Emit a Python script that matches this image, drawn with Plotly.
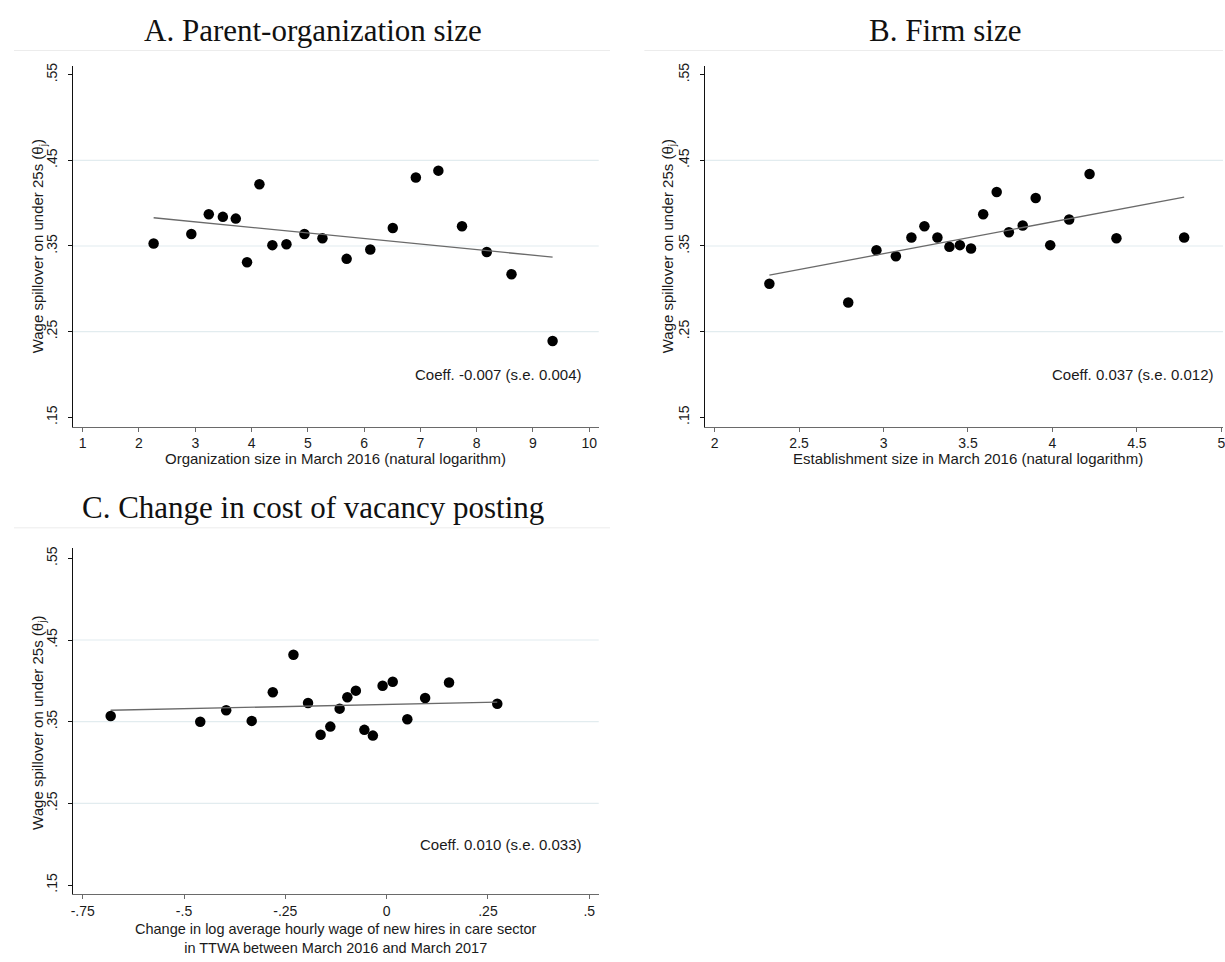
import plotly.graph_objects as go

W, H = 1225, 962

# ---------------- data ----------------
# Panel A: parent-organization size
org_x = [2.26, 2.93, 3.24, 3.49, 3.72, 3.92, 4.14, 4.37, 4.62, 4.94,
         5.26, 5.69, 6.11, 6.51, 6.92, 7.32, 7.74, 8.18, 8.62, 9.35]
org_y = [0.353, 0.364, 0.387, 0.384, 0.382, 0.331, 0.422, 0.351, 0.352, 0.364,
         0.359, 0.335, 0.346, 0.371, 0.430, 0.438, 0.373, 0.343, 0.317, 0.239]
org_fit_x = [2.26, 9.35]
org_fit_y = [0.383, 0.337]

# Panel B: firm (establishment) size
firm_x = [2.324, 2.791, 2.958, 3.073, 3.165, 3.242, 3.319, 3.390, 3.452, 3.518,
          3.590, 3.670, 3.742, 3.824, 3.901, 3.987, 4.099, 4.220, 4.379, 4.780]
firm_y = [0.306, 0.284, 0.345, 0.338, 0.360, 0.373, 0.360, 0.349, 0.351, 0.347,
          0.387, 0.413, 0.366, 0.374, 0.406, 0.351, 0.381, 0.434, 0.359, 0.360]
firm_fit_x = [2.324, 4.780]
firm_fit_y = [0.316, 0.407]

# Panel C: change in cost of vacancy posting
vac_x = [-0.681, -0.460, -0.396, -0.333, -0.281, -0.230, -0.194, -0.163, -0.139, -0.116,
         -0.097, -0.076, -0.055, -0.034, -0.010, 0.015, 0.051, 0.095, 0.154, 0.273]
vac_y = [0.357, 0.350, 0.364, 0.351, 0.386, 0.432, 0.373, 0.334, 0.344, 0.366,
         0.380, 0.388, 0.340, 0.333, 0.394, 0.399, 0.353, 0.379, 0.398, 0.372]
vac_fit_x = [-0.681, 0.273]
vac_fit_y = [0.364, 0.374]

y_ticks = [0.15, 0.25, 0.35, 0.45, 0.55]
y_ticklabels = [".15", ".25", ".35", ".45", ".55"]
grid_vals = [0.25, 0.35, 0.45]

org_ticks = [1, 2, 3, 4, 5, 6, 7, 8, 9, 10]
org_ticklabels = ["1", "2", "3", "4", "5", "6", "7", "8", "9", "10"]
firm_ticks = [2, 2.5, 3, 3.5, 4, 4.5, 5]
firm_ticklabels = ["2", "2.5", "3", "3.5", "4", "4.5", "5"]
vac_ticks = [-0.75, -0.5, -0.25, 0, 0.25, 0.5]
vac_ticklabels = ["-.75", "-.5", "-.25", "0", ".25", ".5"]

titles = ["A. Parent-organization size", "B. Firm size",
          "C. Change in cost of vacancy posting"]
coef_texts = ["Coeff. -0.007 (s.e. 0.004)", "Coeff. 0.037 (s.e. 0.012)",
              "Coeff. 0.010 (s.e. 0.033)"]
xtitles = ["Organization size in March 2016 (natural logarithm)",
           "Establishment size in March 2016 (natural logarithm)"]
xtitle_c = ["Change in log average hourly wage of new hires in care sector",
            "in TTWA between March 2016 and March 2017"]
ytitle = "Wage spillover on under 25s (θ<sub>j</sub>)"

# ---------------- helpers ----------------
def px(x):
    return x / W


def py(y):
    return 1 - y / H


SANS = "Liberation Sans, Arial, sans-serif"
SERIF = "Liberation Serif, Times New Roman, serif"
TXT = "#1a1a1a"

fig = go.Figure()

panels = [
    dict(x=org_x, y=org_y, fx=org_fit_x, fy=org_fit_y, xa="x", ya="y"),
    dict(x=firm_x, y=firm_y, fx=firm_fit_x, fy=firm_fit_y, xa="x2", ya="y2"),
    dict(x=vac_x, y=vac_y, fx=vac_fit_x, fy=vac_fit_y, xa="x3", ya="y3"),
]
for p in panels:
    fig.add_trace(go.Scatter(x=p["x"], y=p["y"], mode="markers", xaxis=p["xa"], yaxis=p["ya"],
                             marker=dict(size=10.5, color="black", line=dict(width=0)),
                             showlegend=False, hoverinfo="x+y"))
    fig.add_trace(go.Scatter(x=p["fx"], y=p["fy"], mode="lines", xaxis=p["xa"], yaxis=p["ya"],
                             line=dict(color="#6a6a6a", width=1.3),
                             showlegend=False, hoverinfo="skip"))

# domains (pixel geometry)
dom_x_left = [px(71), px(598.7)]
dom_x_right = [px(705), 1.0]
dom_y_top = [py(424.3), py(62.7)]
dom_y_bot = [py(894), py(546)]

xcommon = dict(showgrid=False, zeroline=False, showline=True, linecolor="#6a6a6a", linewidth=1.2,
               ticks="outside", ticklen=4, tickcolor="#6a6a6a", tickwidth=1.2,
               ticklabeloverflow="allow",
               tickfont=dict(family=SANS, size=14, color=TXT))
ycommon = dict(showgrid=False, zeroline=False, showline=True, linecolor="#111111", linewidth=1.2,
               ticks="outside", ticklen=4, tickcolor="#111111", tickwidth=1.2,
               tickvals=y_ticks, ticktext=y_ticklabels, tickangle=-90, ticklabelstandoff=5,
               tickfont=dict(family=SANS, size=14, color=TXT))

fig.update_layout(
    width=W, height=H,
    margin=dict(l=0, r=0, t=0, b=0),
    paper_bgcolor="white", plot_bgcolor="white",
    xaxis=dict(domain=dom_x_left, range=[0.823, 10.17], tickvals=org_ticks, ticktext=org_ticklabels,
               anchor="y", **xcommon),
    yaxis=dict(domain=dom_y_top, range=[0.13919, 0.55965], anchor="x", **ycommon),
    xaxis2=dict(domain=dom_x_right, range=[1.941, 5.010], tickvals=firm_ticks, ticktext=firm_ticklabels,
                anchor="y2", **xcommon),
    yaxis2=dict(domain=dom_y_top, range=[0.13919, 0.55965], anchor="x2", **ycommon),
    xaxis3=dict(domain=dom_x_left, range=[-0.7746, 0.5234], tickvals=vac_ticks, ticktext=vac_ticklabels,
                anchor="y3", **xcommon),
    yaxis3=dict(domain=dom_y_bot, range=[0.1387, 0.563], anchor="x3", **ycommon),
)

# horizontal gridlines
for xa, ya in [("x", "y"), ("x2", "y2"), ("x3", "y3")]:
    for g in grid_vals:
        fig.add_shape(type="line", xref=f"{xa} domain", yref=ya,
                      x0=0, x1=1, y0=g, y1=g, line=dict(color="#e2ecef", width=1.2), layer="below")

# faint separator lines under panel titles
for (x0, x1, y) in [(12, 610, 46.7), (644.5, 1225, 46.7), (12, 610, 526)]:
    fig.add_shape(type="line", xref="paper", yref="paper", x0=px(x0), x1=px(x1), y0=py(y), y1=py(y),
                  line=dict(color="#ececec", width=1))

ann = []
# panel titles
for t, (cx, cy) in zip(titles, [(312, 27), (946, 27), (312, 506)]):
    ann.append(dict(text=t, x=px(cx), y=py(cy), xref="paper", yref="paper", showarrow=False,
                    xanchor="center", yanchor="middle", font=dict(family=SERIF, size=31, color="#111111")))
# y-axis titles
for (cx, cy) in [(37, 243.5), (669, 243.5), (37, 722)]:
    ann.append(dict(text=ytitle, x=px(cx), y=py(cy), xref="paper", yref="paper", showarrow=False,
                    textangle=-90, xanchor="center", yanchor="middle",
                    font=dict(family=SANS, size=15, color=TXT)))
# x-axis titles
for t, (cx, cy) in zip(xtitles, [(335, 456), (969, 456)]):
    ann.append(dict(text=t, x=px(cx), y=py(cy), xref="paper", yref="paper", showarrow=False,
                    xanchor="center", yanchor="middle", font=dict(family=SANS, size=15, color=TXT)))
ann.append(dict(text="<br>".join(xtitle_c), x=px(335), y=py(938), xref="paper", yref="paper",
                showarrow=False, xanchor="center", yanchor="middle", align="center",
                font=dict(family=SANS, size=14.5, color=TXT)))
# coefficient annotations
for t, xa, ya, xv in zip(coef_texts, ["x", "x2", "x3"], ["y", "y2", "y3"], [9.9, 4.969, 0.4877]):
    ann.append(dict(text=t, x=xv, y=0.2, xref=xa, yref=ya, showarrow=False,
                    xanchor="right", yanchor="middle", font=dict(family=SANS, size=15, color=TXT)))

fig.update_layout(annotations=ann)

fig.write_html("out.html")
